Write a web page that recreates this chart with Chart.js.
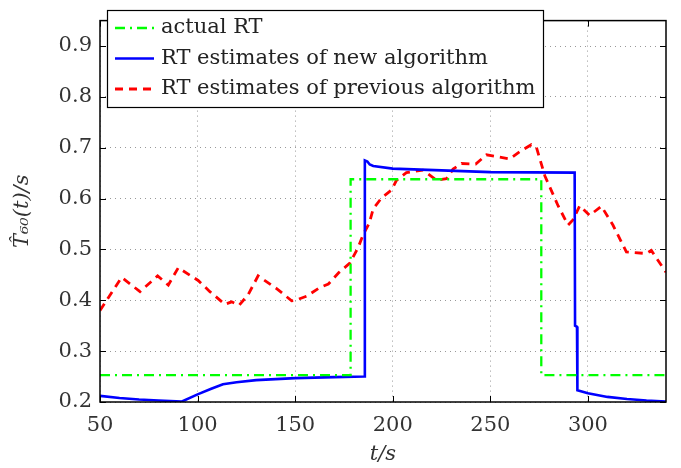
<!DOCTYPE html>
<html>
<head>
<meta charset="utf-8">
<script src="https://cdn.jsdelivr.net/npm/chart.js@4"></script>
<style>
  html, body { margin: 0; padding: 0; background: #fff; }
  #wrap { width: 681px; height: 468px; }
</style>
</head>
<body>
<div id="wrap"><canvas id="rt"></canvas></div>
<script>
// actual reverberation time (step)
var actualT  = [50, 178.4, 178.4, 276.1, 276.1, 340];
var actualRT = [0.253, 0.253, 0.638, 0.638, 0.253, 0.253];

// new algorithm estimates
var newT  = [50, 60, 70, 80, 92, 100, 107, 113, 120, 130, 150, 170, 185.5, 185.7, 187, 188.2, 190, 200, 250, 293.2, 293.4, 294.4, 294.6, 300, 310, 320, 330, 340];
var newRT = [0.212, 0.208, 0.205, 0.203, 0.201, 0.215, 0.226, 0.235, 0.239, 0.243, 0.247, 0.249, 0.250, 0.675, 0.673, 0.667, 0.664, 0.659, 0.652, 0.651, 0.35, 0.348, 0.223, 0.217, 0.21, 0.206, 0.203, 0.201];

// previous algorithm estimates
var prevT  = [50, 61.1, 70.5, 79.5, 85, 90.1, 100.3, 106.3, 114, 117.4, 121.2, 125.9, 131, 140.5, 148.2, 150.2, 155.8, 162.6, 167, 172.5, 178, 182.3, 184.8, 187.9, 190, 194.2, 199.4, 201.9, 207, 215.5, 222.4, 227.5, 230.9, 235.2, 242.5, 248, 259.9, 265, 271, 273.6, 277.9, 284.7, 289.8, 292.3, 295.8, 300.9, 306.9, 312.8, 319.7, 329.9, 332.5, 340];
var prevRT = [0.38, 0.445, 0.417, 0.448, 0.430, 0.464, 0.439, 0.417, 0.392, 0.397, 0.39, 0.411, 0.448, 0.423, 0.399, 0.4, 0.408, 0.425, 0.432, 0.455, 0.473, 0.504, 0.529, 0.551, 0.58, 0.601, 0.617, 0.636, 0.651, 0.656, 0.636, 0.639, 0.658, 0.669, 0.668, 0.686, 0.678, 0.692, 0.706, 0.701, 0.645, 0.586, 0.548, 0.558, 0.586, 0.567, 0.585, 0.548, 0.495, 0.492, 0.498, 0.455];

var xTicks = [50, 100, 150, 200, 250, 300];
var yTicks = [0.2, 0.3, 0.4, 0.5, 0.6, 0.7, 0.8, 0.9];

var labels = ['actual RT', 'RT estimates of new algorithm', 'RT estimates of previous algorithm'];

var SERIF = '"DejaVu Serif", "Liberation Serif", serif';

function pts(xs, ys) {
  return xs.map(function (x, i) { return { x: x, y: ys[i] }; });
}

// box + inward ticks + legend, matlab style
var frame = {
  id: 'frame',
  afterDraw: function (chart) {
    var ctx = chart.ctx, a = chart.chartArea;
    var sx = chart.scales.x, sy = chart.scales.y;
    ctx.save();
    ctx.strokeStyle = '#000';
    ctx.lineWidth = 1;
    ctx.beginPath();
    xTicks.forEach(function (v) {
      var p = Math.round(sx.getPixelForValue(v)) + 0.5;
      ctx.moveTo(p, a.bottom); ctx.lineTo(p, a.bottom - 6);
      ctx.moveTo(p, a.top); ctx.lineTo(p, a.top + 6);
    });
    yTicks.forEach(function (v) {
      var p = Math.round(sy.getPixelForValue(v)) + 0.5;
      ctx.moveTo(a.left, p); ctx.lineTo(a.left + 6, p);
      ctx.moveTo(a.right, p); ctx.lineTo(a.right - 6, p);
    });
    ctx.stroke();
    ctx.lineWidth = 1.5;
    ctx.strokeRect(a.left, a.top, a.right - a.left, a.bottom - a.top);

    // legend
    var lx = 107, ly = 10, lw = 436, lh = 97;
    ctx.fillStyle = '#fff';
    ctx.fillRect(lx, ly, lw, lh);
    ctx.lineWidth = 1.2;
    ctx.strokeRect(lx + 0.5, ly + 0.5, lw, lh);
    ctx.font = '21px ' + SERIF;
    ctx.textBaseline = 'middle';
    chart.data.datasets.forEach(function (ds, i) {
      var y = 28 + i * 30.5;
      ctx.strokeStyle = ds.borderColor;
      ctx.lineWidth = ds.borderWidth;
      ctx.setLineDash(ds.borderDash || []);
      ctx.beginPath();
      ctx.moveTo(115, y); ctx.lineTo(154, y);
      ctx.stroke();
      ctx.setLineDash([]);
      ctx.fillStyle = '#222';
      ctx.fillText(ds.label, 161, y);
    });
    ctx.restore();
  }
};

new Chart(document.getElementById('rt'), {
  type: 'line',
  data: {
    datasets: [
      {
        label: labels[0],
        data: pts(actualT, actualRT),
        borderColor: '#00ff00',
        borderWidth: 2.3,
        borderDash: [10, 5, 2, 5],
        pointRadius: 0,
        tension: 0
      },
      {
        label: labels[1],
        data: pts(newT, newRT),
        borderColor: '#0000ff',
        borderWidth: 2.6,
        pointRadius: 0,
        tension: 0
      },
      {
        label: labels[2],
        data: pts(prevT, prevRT),
        borderColor: '#ff0000',
        borderWidth: 2.8,
        borderDash: [8, 6],
        pointRadius: 0,
        tension: 0
      }
    ]
  },
  options: {
    responsive: true,
    maintainAspectRatio: false,
    animation: false,
    layout: { padding: { left: 0, right: 15, top: 3, bottom: 0 } },
    plugins: { legend: { display: false }, tooltip: { enabled: false } },
    scales: {
      x: {
        type: 'linear',
        min: 50, max: 340,
        afterBuildTicks: function (s) { s.ticks = xTicks.map(function (v) { return { value: v }; }); },
        afterFit: function (s) { s.height = 66; },
        grid: { color: '#999', drawTicks: false, lineWidth: 1 },
        border: { display: false, dash: [1, 4] },
        ticks: { color: '#333', padding: 11, font: { family: SERIF, size: 21 }, maxRotation: 0 },
        title: { display: true, text: 't/s', color: '#333', padding: { top: 0, bottom: 1 }, font: { family: SERIF, size: 21, style: 'italic' } }
      },
      y: {
        min: 0.2, max: 0.95,
        afterBuildTicks: function (s) { s.ticks = yTicks.map(function (v) { return { value: v }; }); },
        afterFit: function (s) { s.width = 100; },
        grid: { color: '#999', drawTicks: false, lineWidth: 1 },
        border: { display: false, dash: [1, 4] },
        ticks: { color: '#333', padding: 8, font: { family: SERIF, size: 21 }, callback: function (v) { return v.toFixed(1); } },
        title: { display: true, text: 'T\u0302\u2086\u2080(t)/s', color: '#333', padding: { top: 10, bottom: 0 }, font: { family: SERIF, size: 21, style: 'italic' } }
      }
    }
  },
  plugins: [frame]
});
</script>
</body>
</html>
